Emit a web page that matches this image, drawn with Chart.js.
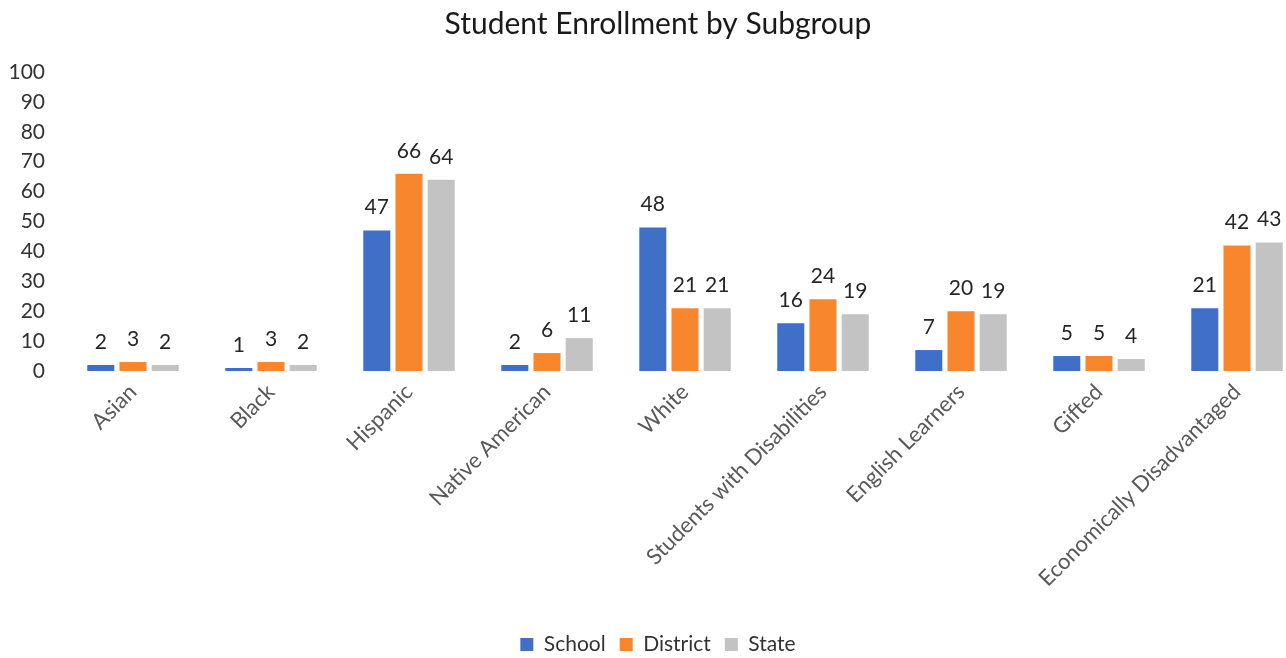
<!DOCTYPE html>
<html>
<head>
<meta charset="utf-8">
<title>Student Enrollment by Subgroup</title>
<script src="https://cdn.jsdelivr.net/npm/chart.js@4/dist/chart.umd.min.js"></script>
<style>
    html, body { margin: 0; padding: 0; background: #fff; overflow: hidden; }
    #wrap { position: relative; width: 1330px; height: 658px; }
</style>
</head>
<body>
<div id="wrap"><canvas id="enrollChart"></canvas></div>
<script>
// --- DATA ---
const subgroups = ['Asian', 'Black', 'Hispanic', 'Native American', 'White',
    'Students with Disabilities', 'English Learners', 'Gifted', 'Economically Disadvantaged'];
const schoolPct   = [2, 1, 47, 2, 48, 16, 7, 5, 21];
const districtPct = [3, 3, 66, 6, 21, 24, 20, 5, 42];
const statePct    = [2, 2, 64, 11, 21, 19, 19, 4, 43];
const yTicks = [0, 10, 20, 30, 40, 50, 60, 70, 80, 90, 100];

// --- COLORS / FONTS ---
const COLORS = {
    school: '#3F6FC6',
    district: '#F8862C',
    state: '#C3C3C3'
};
const FONT = "Lato, 'Open Sans', sans-serif";

// value labels above every bar
const barValueLabels = {
    id: 'barValueLabels',
    afterDatasetsDraw(chart) {
        const ctx = chart.ctx;
        ctx.save();
        ctx.font = `21px ${FONT}`;
        ctx.fillStyle = '#262626';
        ctx.textAlign = 'center';
        ctx.textBaseline = 'alphabetic';
        chart.data.datasets.forEach((ds, i) => {
            const meta = chart.getDatasetMeta(i);
            meta.data.forEach((bar, j) => {
                ctx.fillText(String(ds.data[j]), bar.x, bar.y - 16);
            });
        });
        ctx.restore();
    }
};

const ctx = document.getElementById('enrollChart').getContext('2d');
new Chart(ctx, {
    type: 'bar',
    data: {
        labels: subgroups,
        datasets: [
            { label: 'School', data: schoolPct, backgroundColor: COLORS.school },
            { label: 'District', data: districtPct, backgroundColor: COLORS.district },
            { label: 'State', data: statePct, backgroundColor: COLORS.state }
        ]
    },
    options: {
        responsive: true,
        maintainAspectRatio: false,
        animation: false,
        categoryPercentage: 0.7,
        barPercentage: 0.84,
        layout: { padding: { left: 10, right: 24, top: 0, bottom: -7 } },
        scales: {
            x: {
                grid: { display: false, drawTicks: false },
                border: { display: false },
                ticks: {
                    minRotation: 45,
                    maxRotation: 45,
                    autoSkip: false,
                    padding: 8,
                    color: '#595959',
                    font: { family: FONT, size: 22 }
                },
                afterFit(scale) { scale.height = 249; }
            },
            y: {
                min: 0,
                max: 100,
                afterBuildTicks(scale) { scale.ticks = yTicks.map(v => ({ value: v })); },
                grid: { display: false, drawTicks: false },
                border: { display: false },
                ticks: {
                    padding: 19,
                    color: '#333333',
                    font: { family: FONT, size: 21 }
                },
                afterFit(scale) { scale.width = 54; }
            }
        },
        plugins: {
            title: {
                display: true,
                text: 'Student Enrollment by Subgroup',
                color: '#1a1a1a',
                font: { family: FONT, size: 30, weight: 'normal' },
                padding: { top: 6, bottom: 30 }
            },
            legend: {
                position: 'bottom',
                labels: {
                    boxWidth: 13,
                    boxHeight: 13,
                    padding: 14,
                    color: '#333333',
                    font: { family: FONT, size: 21 }
                }
            },
            tooltip: { enabled: false }
        }
    },
    plugins: [barValueLabels]
});
</script>
</body>
</html>
